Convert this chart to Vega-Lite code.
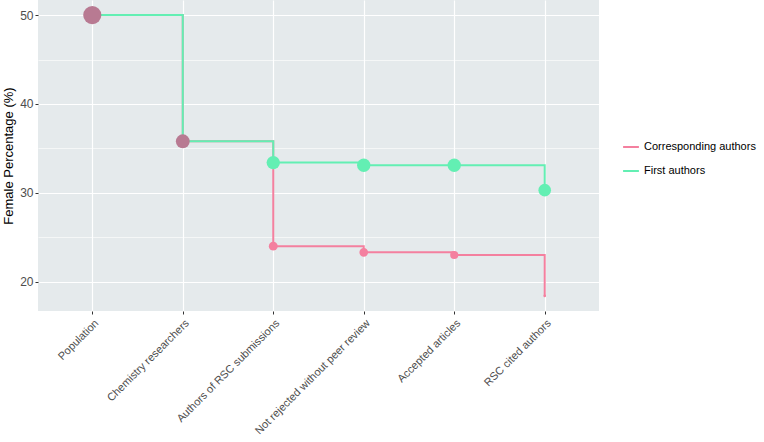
{
  "$schema": "https://vega.github.io/schema/vega-lite/v6.json",
  "autosize": "none",
  "padding": {"left": 38, "top": 0, "right": 165, "bottom": 131},
  "width": 561,
  "height": 311,
  "background": "white",
  "config": {
    "view": {"fill": "#e5eaec", "stroke": null},
    "font": "Liberation Sans",
    "axis": {"labelFont": "Liberation Sans", "titleFont": "Liberation Sans"},
    "legend": {"labelFont": "Liberation Sans"}
  },
  "datasets": {
    "lines": [
      {"series": "Corresponding authors", "stage": "Population", "pct": 50},
      {"series": "Corresponding authors", "stage": "Chemistry researchers", "pct": 35.8},
      {"series": "Corresponding authors", "stage": "Authors of RSC submissions", "pct": 24.0},
      {"series": "Corresponding authors", "stage": "Not rejected without peer review", "pct": 23.3},
      {"series": "Corresponding authors", "stage": "Accepted articles", "pct": 23.0},
      {"series": "Corresponding authors", "stage": "RSC cited authors", "pct": 18.4},
      {"series": "First authors", "stage": "Population", "pct": 50},
      {"series": "First authors", "stage": "Chemistry researchers", "pct": 35.8},
      {"series": "First authors", "stage": "Authors of RSC submissions", "pct": 33.4},
      {"series": "First authors", "stage": "Not rejected without peer review", "pct": 33.1},
      {"series": "First authors", "stage": "Accepted articles", "pct": 33.1},
      {"series": "First authors", "stage": "RSC cited authors", "pct": 30.3}
    ],
    "points": [
      {"group": "Both", "stage": "Population", "pct": 50, "n": 100},
      {"group": "Both", "stage": "Chemistry researchers", "pct": 35.8, "n": 58},
      {"group": "Corresponding authors", "stage": "Authors of RSC submissions", "pct": 24.0, "n": 24},
      {"group": "Corresponding authors", "stage": "Not rejected without peer review", "pct": 23.3, "n": 23},
      {"group": "Corresponding authors", "stage": "Accepted articles", "pct": 23.0, "n": 20},
      {"group": "Corresponding authors", "stage": "RSC cited authors", "pct": 18.4, "n": 2},
      {"group": "First authors", "stage": "Authors of RSC submissions", "pct": 33.4, "n": 54},
      {"group": "First authors", "stage": "Not rejected without peer review", "pct": 33.1, "n": 54},
      {"group": "First authors", "stage": "Accepted articles", "pct": 33.1, "n": 54},
      {"group": "First authors", "stage": "RSC cited authors", "pct": 30.3, "n": 48}
    ]
  },
  "encoding": {
    "x": {
      "field": "stage",
      "type": "nominal",
      "sort": ["Population", "Chemistry researchers", "Authors of RSC submissions", "Not rejected without peer review", "Accepted articles", "RSC cited authors"],
      "scale": {"type": "point", "padding": 0.6},
      "axis": {
        "title": null,
        "labelAngle": -45,
        "labelAlign": "right",
        "labelBaseline": "top",
        "labelFontSize": 11,
        "labelColor": "#4d4d4d",
        "labelPadding": 3,
        "tickSize": 3,
        "tickColor": "#333333",
        "domain": false,
        "grid": true,
        "gridColor": "white",
        "gridWidth": 1.2
      }
    },
    "y": {
      "field": "pct",
      "type": "quantitative",
      "scale": {"domain": [16.7, 51.7], "nice": false, "zero": false},
      "axis": {
        "title": "Female Percentage (%)",
        "titleFontSize": 13,
        "titleFontWeight": "normal",
        "titleColor": "black",
        "titlePadding": 4,
        "values": [20, 25, 30, 35, 40, 45, 50],
        "labelExpr": "datum.value % 10 === 0 ? datum.label : ''",
        "labelFontSize": 12,
        "labelColor": "#4d4d4d",
        "tickSize": 3,
        "tickColor": "#333333",
        "tickOpacity": {"condition": {"test": "datum.value % 10 === 0", "value": 1}, "value": 0},
        "domain": false,
        "grid": true,
        "gridColor": "white",
        "gridWidth": {"condition": {"test": "datum.value % 10 === 0", "value": 1.2}, "value": 0.6}
      }
    }
  },
  "layer": [
    {
      "data": {"name": "lines"},
      "mark": {"type": "line", "interpolate": "step-after", "strokeWidth": 2},
      "encoding": {
        "color": {
          "field": "series",
          "type": "nominal",
          "scale": {"domain": ["Corresponding authors", "First authors", "Both"], "range": ["#f4809f", "#63efb3", "#b87a92"]},
          "legend": {
            "title": null,
            "values": ["Corresponding authors", "First authors"],
            "orient": "none",
            "legendX": 584,
            "legendY": 138,
            "symbolType": "stroke",
            "symbolStrokeWidth": 2,
            "symbolSize": 250,
            "labelFontSize": 11,
            "labelColor": "black",
            "rowPadding": 10
          }
        },
        "order": {"field": "series", "type": "nominal"}
      }
    },
    {
      "data": {"name": "points"},
      "mark": {"type": "circle", "opacity": 1},
      "encoding": {
        "color": {"field": "group", "type": "nominal"},
        "size": {"field": "n", "type": "quantitative", "scale": {"domain": [0, 100], "range": [0, 330]}, "legend": null}
      }
    }
  ]
}
